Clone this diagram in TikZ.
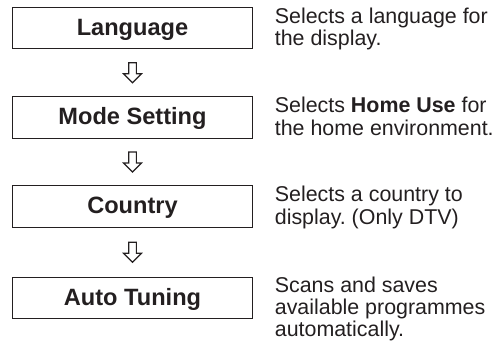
\documentclass[tikz,border=0pt]{standalone}
\usepackage{fontspec}
\setmainfont{Liberation Sans}
\usetikzlibrary{calc}
\definecolor{ink}{RGB}{35,31,32}
\begin{document}
\frenchspacing
\begin{tikzpicture}[x=1pt,y=1pt,
  stepbox/.style={draw=ink, line width=1.3pt, minimum width=240pt, minimum height=41.5pt,
    inner sep=0pt, text=ink, font=\fontsize{23.6pt}{26pt}\selectfont\bfseries,
    text height=17pt, text depth=3pt},
  desc/.style={anchor=north west, inner sep=0pt, align=left, text=ink,
    font=\fontsize{21.4pt}{22.5pt}\selectfont},
  hollowarrow/.pic={\draw[ink, line width=1.1pt, line join=miter]
    (-3.8,10) -- (3.8,10) -- (3.8,-1) -- (9,-1) -- (0,-10) -- (-9,-1) -- (-3.8,-1) -- cycle;}]
\useasboundingbox (0,0) rectangle (497,-341);
\node[stepbox] (b1) at (132.5,-28) {Language};
\node[stepbox] (b2) at (132.5,-117.5) {Mode Setting};
\node[stepbox] (b3) at (132.5,-206.5) {Country};
\node[stepbox] (b4) at (132.5,-298) {Auto Tuning};
\coordinate (a1) at ($(b1.south)!0.5!(b2.north)$);
\coordinate (a2) at ($(b2.south)!0.5!(b3.north)$);
\coordinate (a3) at ($(b3.south)!0.5!(b4.north)$);
\pic at (a1) {hollowarrow};
\pic at (a2) {hollowarrow};
\pic at (a3) {hollowarrow};
\node[desc] (d1) at ([xshift=21.5pt,yshift=-1pt]b1.north east) {Selects a language for\\the display.};
\node[desc] (d2) at ([xshift=21.5pt,yshift=-1pt]b2.north east) {Selects \textbf{Home Use} for\\the home environment.};
\node[desc] (d3) at ([xshift=21.5pt,yshift=-1pt]b3.north east) {Selects a country to\\display. (Only DTV)};
\node[desc, font=\fontsize{21.4pt}{22pt}\selectfont] (d4) at ([xshift=21.5pt]b4.north east) {Scans and saves\\available programmes\\automatically.};
\end{tikzpicture}
\end{document}
